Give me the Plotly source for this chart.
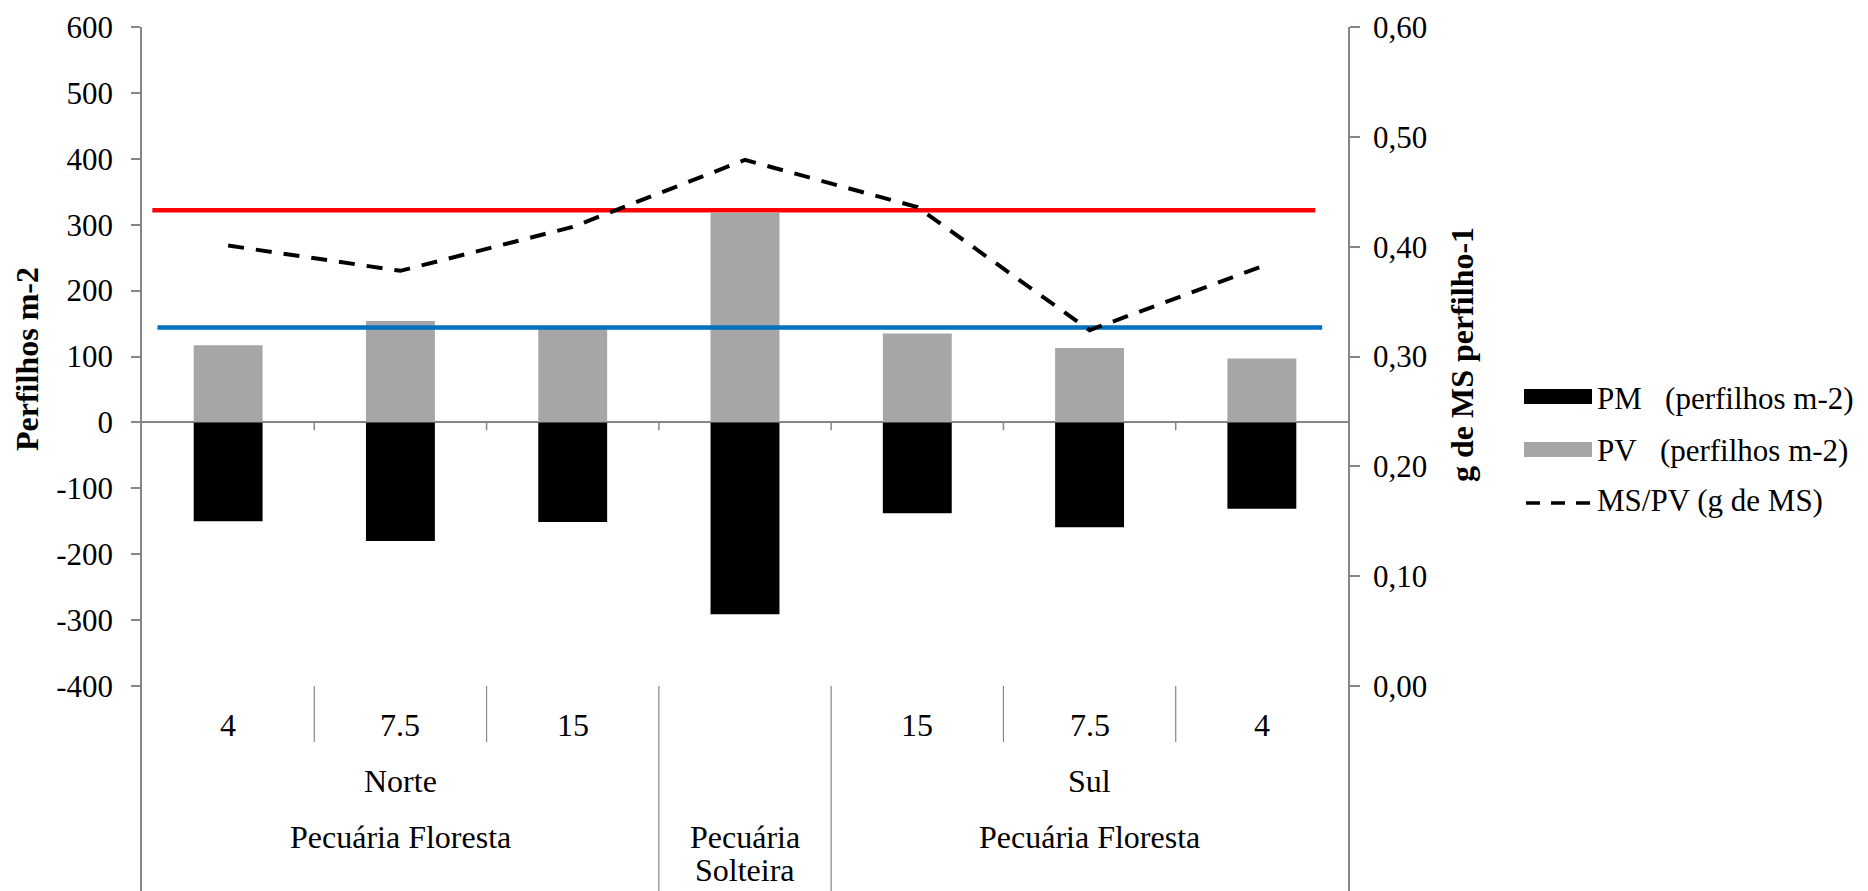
import plotly.graph_objects as go

# ---------------- data ----------------
dist_labels = ["4", "7.5", "15", "", "15", "7.5", "4"]          # first label row
side_labels = ["Norte", "", "Sul"]                               # second row (groups)
side_centers = [1, 3, 5]
system_labels = ["Pecuária Floresta", "Pecuária Solteira", "Pecuária Floresta"]
system_centers = [1, 3, 5]
pv_values = [117, 154, 143, 318, 135, 113, 97]                   # PV (perfilhos m-2)
pm_values = [-150, -180, -151, -291, -138, -159, -131]           # PM (perfilhos m-2)
ms_pv_values = [0.401, 0.378, 0.418, 0.479, 0.436, 0.324, 0.382] # MS/PV (g de MS)
ref_red = [322, 322]
ref_blue = [144, 144]
left_ticks = [-400, -300, -200, -100, 0, 100, 200, 300, 400, 500, 600]
left_ticktext = ["-400", "-300", "-200", "-100", "0", "100", "200", "300", "400", "500", "600"]
right_ticks = [0.0, 0.1, 0.2, 0.3, 0.4, 0.5, 0.6]
right_ticktext = ["0,00", "0,10", "0,20", "0,30", "0,40", "0,50", "0,60"]
legend_names = ["PM\u00a0\u00a0\u00a0(perfilhos m-2)", "PV\u00a0\u00a0\u00a0(perfilhos m-2)", "MS/PV (g de MS)"]

x_idx = list(range(len(dist_labels)))

# ---------------- layout helpers ----------------
OFF = 8                      # page body margin offset
W, H = 1868 - OFF, 891 - OFF
ML, MT, MB = 142 - OFF, 27 - OFF, 0
PW = 1348 - 142
MR = W - ML - PW
PH = H - MT - MB
FONT = "Liberation Serif, Times New Roman, serif"
AX = "#868686"


def px_x(p):
    return (p - OFF - ML) / PW


def px_y(p):
    return (H - MB - (p - OFF)) / PH


Y_TOP = 600
px_per_unit = (686 - 27) / 1000.0
Y_BOT = Y_TOP - PH / px_per_unit
Y2_BOT = (Y_BOT + 400) * 0.0006

fig = go.Figure()
fig.add_trace(go.Bar(x=x_idx, y=pv_values, name=legend_names[1], marker=dict(color="#A6A6A6", line=dict(width=0)),
                     width=0.4, showlegend=False))
fig.add_trace(go.Bar(x=x_idx, y=pm_values, name=legend_names[0], marker=dict(color="#000000", line=dict(width=0)),
                     width=0.4, showlegend=False))
fig.add_trace(go.Scatter(x=[-0.44, 6.31], y=ref_red, mode="lines", line=dict(color="#FF0000", width=4.5),
                         showlegend=False, hoverinfo="skip"))
fig.add_trace(go.Scatter(x=[-0.41, 6.35], y=ref_blue, mode="lines", line=dict(color="#0070C0", width=4.5),
                         showlegend=False, hoverinfo="skip"))
fig.add_trace(go.Scatter(x=x_idx, y=ms_pv_values, yaxis="y2", mode="lines", name=legend_names[2],
                         line=dict(color="#000000", width=4, dash="16px,12px"), showlegend=False))

shapes = []
# tick marks on the zero line at category boundaries
for b in [0.5, 1.5, 2.5, 3.5, 4.5, 5.5]:
    shapes.append(dict(type="line", xref="x", yref="y", x0=b, x1=b, y0=0, y1=-12,
                       line=dict(color=AX, width=1.5)))
# category separators below the plot
for b in [0.5, 1.5, 4.5, 5.5]:
    shapes.append(dict(type="line", xref="x", yref="paper", x0=b, x1=b, y0=px_y(686), y1=px_y(742),
                       line=dict(color=AX, width=1.2)))
for b in [2.5, 3.5]:
    shapes.append(dict(type="line", xref="x", yref="paper", x0=b, x1=b, y0=px_y(686), y1=0,
                       line=dict(color=AX, width=1.2)))
# manual legend symbols
shapes.append(dict(type="rect", xref="paper", yref="paper", x0=px_x(1524), x1=px_x(1592),
                   y0=px_y(404), y1=px_y(389), fillcolor="#000000", line=dict(width=0)))
shapes.append(dict(type="rect", xref="paper", yref="paper", x0=px_x(1524), x1=px_x(1592),
                   y0=px_y(457), y1=px_y(442), fillcolor="#A6A6A6", line=dict(width=0)))
shapes.append(dict(type="line", xref="paper", yref="paper", x0=px_x(1526), x1=px_x(1592),
                   y0=px_y(503), y1=px_y(503), line=dict(color="#000000", width=3.5, dash="14px,11px")))

ann = []
tf = dict(family=FONT, size=32, color="#000000")
lf = dict(family=FONT, size=31, color="#000000")
for i, t in enumerate(dist_labels):
    if t:
        ann.append(dict(x=i, y=px_y(725), xref="x", yref="paper", text=t, showarrow=False, font=tf,
                        xanchor="center", yanchor="middle"))
for c, t in zip(side_centers, side_labels):
    if t:
        ann.append(dict(x=c, y=px_y(781), xref="x", yref="paper", text=t, showarrow=False, font=tf,
                        xanchor="center", yanchor="middle"))
for c, t in zip(system_centers, system_labels):
    if t == "Pecuária Solteira":
        w1, w2 = t.split(" ")
        ann.append(dict(x=c, y=px_y(837), xref="x", yref="paper", text=w1, showarrow=False, font=tf,
                        xanchor="center", yanchor="middle"))
        ann.append(dict(x=c, y=px_y(870), xref="x", yref="paper", text=w2, showarrow=False, font=tf,
                        xanchor="center", yanchor="middle"))
    else:
        ann.append(dict(x=c, y=px_y(837), xref="x", yref="paper", text=t, showarrow=False, font=tf,
                        xanchor="center", yanchor="middle"))
# legend texts
for name, yc in zip(legend_names, [398, 450, 500]):
    ann.append(dict(x=px_x(1595), y=px_y(yc), xref="paper", yref="paper", text=name, showarrow=False,
                    font=lf, xanchor="left", yanchor="middle"))
# axis titles
ann.append(dict(x=px_x(27), y=px_y(359), xref="paper", yref="paper", text="<b>Perfilhos m-2</b>",
                textangle=-90, showarrow=False, font=tf, xanchor="center", yanchor="middle"))
ann.append(dict(x=px_x(1462), y=px_y(354), xref="paper", yref="paper", text="<b>g de MS perfilho-1</b>",
                textangle=-90, showarrow=False, font=tf, xanchor="center", yanchor="middle"))

fig.update_layout(
    width=W, height=H,
    margin=dict(l=ML, r=MR, t=MT, b=MB, autoexpand=False),
    paper_bgcolor="white", plot_bgcolor="white",
    barmode="relative",
    showlegend=False,
    font=dict(family=FONT, size=31, color="#000000"),
    xaxis=dict(range=[-0.5, 6.5], visible=False, showgrid=False, zeroline=False),
    yaxis=dict(range=[Y_BOT, Y_TOP], tickvals=left_ticks, ticktext=left_ticktext, ticks="outside",
               ticklen=9, tickwidth=1.5,
               tickcolor=AX, showline=True, linecolor=AX, linewidth=1.5, showgrid=False,
               zeroline=True, zerolinecolor=AX, zerolinewidth=2,
               tickfont=dict(family=FONT, size=31, color="#000000"), ticklabelstandoff=12),
    yaxis2=dict(range=[Y2_BOT, 0.6], overlaying="y", side="right", tickvals=right_ticks,
                ticktext=right_ticktext, ticks="outside", ticklen=10, tickwidth=1.5, tickcolor=AX,
                showline=True, linecolor=AX, linewidth=1.5, showgrid=False, zeroline=False,
                tickfont=dict(family=FONT, size=31, color="#000000"), ticklabelstandoff=7),
    shapes=shapes,
    annotations=ann,
)

fig.write_html("out.html")
